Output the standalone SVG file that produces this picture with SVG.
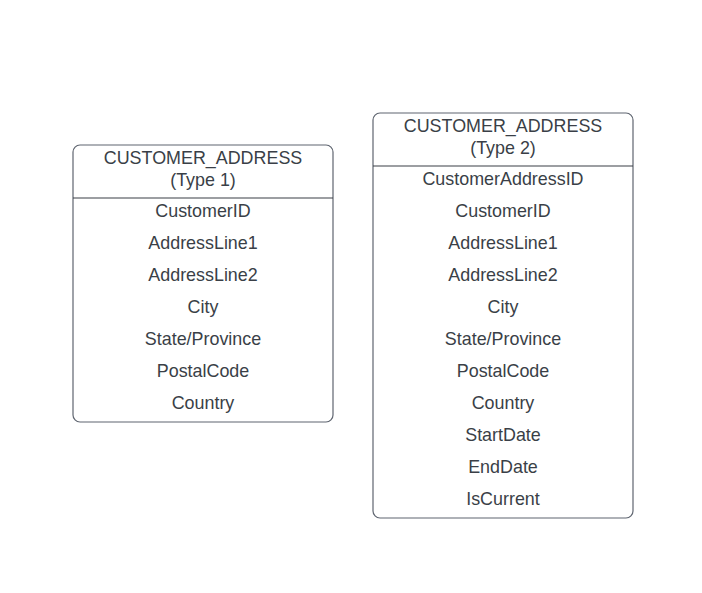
<svg xmlns="http://www.w3.org/2000/svg" width="702" height="593" viewBox="0 0 702 593">
<style>
.box{fill:#ffffff;stroke:#5f6570;stroke-width:1.2}
.div{stroke:#3a3f47;stroke-width:1.2}
text{font-family:"Liberation Sans",Arial,sans-serif;font-size:17.9px;fill:#3a3f47;text-anchor:middle;dominant-baseline:central}
</style>
<rect width="702" height="593" fill="#ffffff"/>
<g id="type1">
<rect class="box" x="73" y="145" width="260" height="277" rx="7"/>
<line class="div" x1="73" y1="198" x2="333" y2="198"/>
<text x="203" y="158">CUSTOMER_ADDRESS</text>
<text x="203" y="180">(Type 1)</text>
<text x="203" y="211">CustomerID</text>
<text x="203" y="243">AddressLine1</text>
<text x="203" y="275">AddressLine2</text>
<text x="203" y="307">City</text>
<text x="203" y="339">State/Province</text>
<text x="203" y="371">PostalCode</text>
<text x="203" y="403">Country</text>
</g>
<g id="type2">
<rect class="box" x="373" y="113" width="260" height="405" rx="7"/>
<line class="div" x1="373" y1="166" x2="633" y2="166"/>
<text x="503" y="126">CUSTOMER_ADDRESS</text>
<text x="503" y="148">(Type 2)</text>
<text x="503" y="179">CustomerAddressID</text>
<text x="503" y="211">CustomerID</text>
<text x="503" y="243">AddressLine1</text>
<text x="503" y="275">AddressLine2</text>
<text x="503" y="307">City</text>
<text x="503" y="339">State/Province</text>
<text x="503" y="371">PostalCode</text>
<text x="503" y="403">Country</text>
<text x="503" y="435">StartDate</text>
<text x="503" y="467">EndDate</text>
<text x="503" y="499">IsCurrent</text>
</g>
<g id="connectors"></g>
</svg>
